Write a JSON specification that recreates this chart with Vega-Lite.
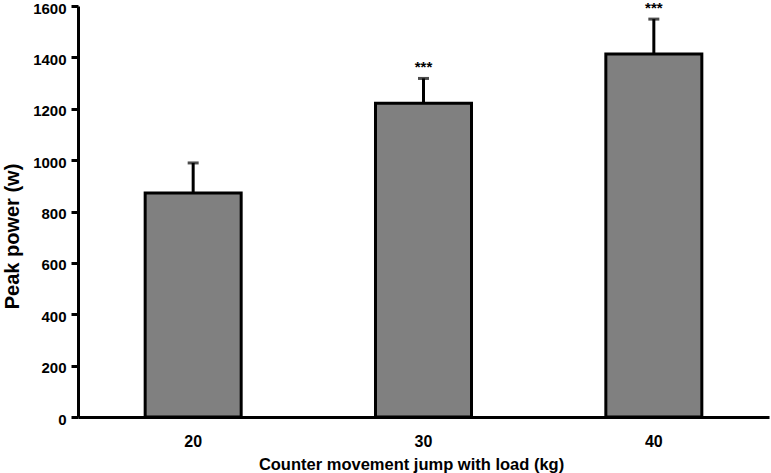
{
  "$schema": "https://vega.github.io/schema/vega-lite/v6.json",
  "autosize": "none",
  "width": 691,
  "height": 411,
  "padding": {"left": 78, "top": 6, "right": 2, "bottom": 56},
  "background": "white",
  "config": {
    "view": {"stroke": null},
    "font": "Liberation Sans",
    "axis": {"grid": false, "domainColor": "black", "domainWidth": 3, "tickColor": "black", "tickWidth": 3, "labelColor": "black", "titleColor": "black", "labelFont": "Liberation Sans", "titleFont": "Liberation Sans", "labelFontWeight": "bold", "titleFontWeight": "bold", "labelFontSize": 16, "titleFontSize": 16}
  },
  "data": {"values": [
    {"load": "20", "mean": 872, "upper": 989, "sig": ""},
    {"load": "30", "mean": 1221, "upper": 1318, "sig": "***"},
    {"load": "40", "mean": 1413, "upper": 1549, "sig": "***"}
  ]},
  "encoding": {
    "x": {"field": "load", "type": "nominal", "scale": {"paddingInner": 0, "paddingOuter": 0},
      "axis": {"title": "Counter movement jump with load (kg)", "labelAngle": 0, "ticks": false, "labelPadding": 24, "labelBaseline": "middle", "titleX": 333, "titleY": 52, "titleBaseline": "alphabetic", "titleFontSize": 16.5}}
  },
  "layer": [
    {
      "mark": {"type": "rule", "color": "black", "strokeWidth": 3},
      "encoding": {
        "y": {"field": "mean", "type": "quantitative"},
        "y2": {"field": "upper"}
      }
    },
    {
      "mark": {"type": "tick", "color": "black", "size": 11, "thickness": 3, "orient": "horizontal"},
      "encoding": {
        "y": {"field": "upper", "type": "quantitative"}
      }
    },
    {
      "mark": {"type": "bar", "size": 96, "fill": "#808080", "stroke": "black", "strokeWidth": 3},
      "encoding": {
        "y": {"field": "mean", "type": "quantitative", "scale": {"domain": [0, 1600], "nice": false},
          "axis": {"title": "Peak power (w)", "format": "d", "values": [0, 200, 400, 600, 800, 1000, 1200, 1400, 1600], "tickSize": 7, "labelPadding": 5, "labelOffset": 2, "labelFontSize": 15, "titleFontSize": 20, "titleX": -60, "titleY": 230, "titleBaseline": "alphabetic", "titleAngle": -90, "titleAlign": "center"}}
      }
    },
    {
      "mark": {"type": "text", "fontSize": 15, "fontWeight": "bold", "color": "black", "baseline": "alphabetic", "dy": -6},
      "encoding": {
        "y": {"field": "upper", "type": "quantitative"},
        "text": {"field": "sig"}
      }
    }
  ]
}
